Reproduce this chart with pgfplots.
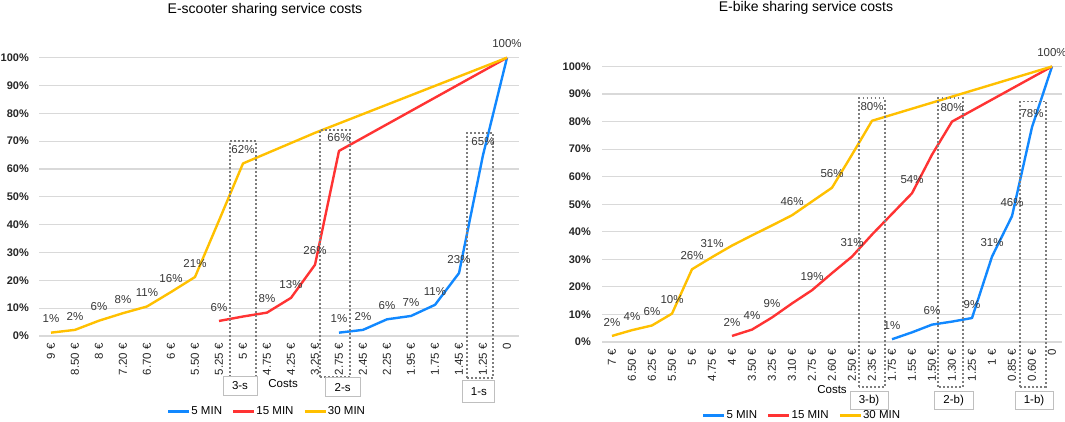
\documentclass[border=0pt]{standalone}
\usepackage{pgfplots}
\pgfplotsset{compat=1.18}
\usepackage{fontspec}
\setmainfont{Liberation Sans}
\definecolor{c5}{RGB}{17,136,255}
\definecolor{c15}{RGB}{255,51,51}
\definecolor{c30}{RGB}{255,192,0}
\definecolor{gridc}{RGB}{217,217,217}
\definecolor{labc}{RGB}{55,55,55}
\definecolor{boxg}{RGB}{125,125,125}
\definecolor{boxb}{RGB}{191,191,191}
\tikzset{
 dbox/.style={boxg, line width=1.8pt, dash pattern=on 1.8pt off 2.2pt},
 lbox/.style={draw=boxb, fill=white, line width=0.9pt, inner sep=0pt, font=\fontsize{11.5}{13}\selectfont},
}
\pgfplotsset{
 common/.style={
  scale only axis, clip=false,
  /pgf/number format/assume math mode=true,
  ymin=0, ymax=100, ytick={0,10,...,100},
  yticklabel={\pgfmathprintnumber{\tick}\%},
  yticklabel style={font=\fontsize{11}{12}\selectfont\bfseries, text=black!85, anchor=east, inner sep=0pt},
  xticklabel style={font=\fontsize{11.5}{12}\selectfont, text=black!85, rotate=90, anchor=east, inner sep=0pt},
  xticklabel shift=7pt,
  ymajorgrids, major grid style={gridc, line width=1.1pt},
  axis line style={draw=none}, major tick length=0pt,
  every axis plot/.append style={line width=2.4pt, line join=round},
  legend style={draw=none, fill=none, anchor=center, legend columns=3,
    font=\fontsize{11.5}{13}\selectfont, inner sep=0pt, nodes={inner sep=1pt},
    /tikz/every even column/.append style={column sep=9pt}},
  legend image code/.code={\draw[#1, line width=2.4pt] (0pt,0pt) -- (21pt,0pt);},
  every node near coord/.append style={font=\fontsize{11.5}{12}\selectfont, text=labc, anchor=south, inner sep=0pt, yshift=8.5pt},
 },
 lab/.style={forget plot, draw=none, mark=none, nodes near coords, point meta=explicit symbolic},
}
\begin{document}
\begin{tikzpicture}[x=1pt,y=1pt]
\path[use as bounding box] (0,0) rectangle (1065,422);
\node[font=\fontsize{14}{16}\selectfont] at (265,412) {E-scooter sharing service costs};
\node[font=\fontsize{14}{16}\selectfont] at (806,414.5) {E-bike sharing service costs};
\begin{axis}[common, at={(39pt,86pt)}, anchor=south west, width=480pt, height=278.3pt,
  xmin=-0.5, xmax=19.5, xtick={0,...,19}, yticklabel shift=10pt,
  xticklabels={9 €,8.50 €,8 €,7.20 €,6.70 €,6 €,5.50 €,5.25 €,5 €,4.75 €,4.25 €,3.25 €,2.75 €,2.45 €,2.25 €,1.95 €,1.75 €,1.45 €,1.25 €,0},
  legend style={at={(axis description cs:0.474,-0.272)}}]
\addplot[c5] coordinates {(12,1.2) (13,2.2) (14,6) (15,7.2) (16,11.2) (17,22.6) (18,65) (19,100)};
\addlegendentry{5 MIN}
\addplot[c15] coordinates {(7,5.4) (8,7) (9,8.4) (10,13.7) (11,25.6) (12,66.5) (19,100)};
\addlegendentry{15 MIN}
\addplot[c30] coordinates {(0,1.2) (1,2.2) (2,5.5) (3,8.2) (4,10.6) (5,15.8) (6,21.2) (7,41.5) (8,62) (11,73) (19,100)};
\addlegendentry{30 MIN}
\addplot[lab] coordinates {(12,1.2) [1\%] (13,2.2) [2\%] (14,6) [6\%] (15,7.2) [7\%] (16,11.2) [11\%] (17,22.6) [23\%] (18,65) [65\%]};
\addplot[lab] coordinates {(7,5.4) [6\%] (9,8.4) [8\%] (10,13.7) [13\%] (11,25.6) [26\%] (12,66.5) [66\%]};
\addplot[lab] coordinates {(0,1.2) [1\%] (1,2.2) [2\%] (2,5.5) [6\%] (3,8.2) [8\%] (4,10.6) [11\%] (5,15.8) [16\%] (6,21.2) [21\%] (8,62) [62\%] (19,100) [100\%]};
\draw[dbox] (axis cs:7.45,-14.7) rectangle (axis cs:8.55,70);
\draw[dbox] (axis cs:11.2,-14.7) rectangle (axis cs:12.46,74);
\draw[dbox] (axis cs:17.33,-15.1) rectangle (axis cs:18.42,72.9);
\node[lbox, minimum width=34pt, minimum height=18.5pt] at (axis cs:7.875,-17.9) {3-s};
\node[lbox, minimum width=35pt, minimum height=19pt] at (axis cs:12.15,-18.4) {2-s};
\node[lbox, minimum width=32pt, minimum height=22pt] at (axis cs:17.83,-19.8) {1-s};
\node[font=\fontsize{11.5}{13}\selectfont] at (axis cs:9.67,-17.2) {Costs};
\end{axis}
\begin{axis}[common, at={(602pt,80pt)}, anchor=south west, width=460pt, height=275.5pt,
  xmin=-0.5, xmax=22.5, xtick={0,...,22}, yticklabel shift=11pt,
  xticklabels={7 €,6.50 €,6.25 €,5.50 €,5 €,4.75 €,4 €,3.50 €,3.25 €,3.10 €,2.75 €,2.60 €,2.50 €,2.35 €,1.75 €,1.55 €,1.50 €,1.30 €,1.25 €,1 €,0.85 €,0.60 €,0},
  legend style={at={(axis description cs:0.434,-0.2675)}}]
\addplot[c5] coordinates {(14,1) (15,3.5) (16,6.3) (17,7.4) (18,8.7) (19,31) (20,45.7) (21,78) (22,100)};
\addlegendentry{5 MIN}
\addplot[c15] coordinates {(6,2.2) (7,4.5) (8,8.9) (9,14) (10,18.8) (11,25) (12,31) (13,39) (14,46.5) (15,54) (16,68) (17,80) (22,100)};
\addlegendentry{15 MIN}
\addplot[c30] coordinates {(0,2.2) (1,4.3) (2,6) (3,10.3) (4,26.4) (5,30.8) (6,35) (7,38.7) (8,42.3) (9,46) (10,51) (11,56) (12,68) (13,80.3) (22,100)};
\addlegendentry{30 MIN}
\addplot[lab] coordinates {(14,1) [1\%] (16,6.3) [6\%] (18,8.7) [9\%] (19,31) [31\%] (20,45.7) [46\%] (21,78) [78\%]};
\addplot[lab] coordinates {(6,2.2) [2\%] (7,4.5) [4\%] (8,8.9) [9\%] (10,18.8) [19\%] (12,31) [31\%] (15,54) [54\%] (17,80) [80\%]};
\addplot[lab] coordinates {(0,2.2) [2\%] (1,4.3) [4\%] (2,6) [6\%] (3,10.3) [10\%] (4,26.4) [26\%] (5,30.8) [31\%] (9,46) [46\%] (11,56) [56\%] (13,80.3) [80\%] (22,100) [100\%]};
\draw[dbox] (axis cs:12.35,-16.2) rectangle (axis cs:13.65,88.5);
\draw[dbox] (axis cs:16.3,-16.2) rectangle (axis cs:17.55,88.5);
\draw[dbox] (axis cs:20.4,-16.2) rectangle (axis cs:21.7,87.3);
\node[lbox, minimum width=38pt, minimum height=17.3pt] at (axis cs:12.85,-21.2) {3-b)};
\node[lbox, minimum width=39pt, minimum height=17.3pt] at (axis cs:17.08,-21.2) {2-b)};
\node[lbox, minimum width=38pt, minimum height=17.3pt] at (axis cs:21.1,-21.2) {1-b)};
\node[font=\fontsize{11.5}{13}\selectfont] at (axis cs:11.0,-17.4) {Costs};
\end{axis}
\end{tikzpicture}
\end{document}
